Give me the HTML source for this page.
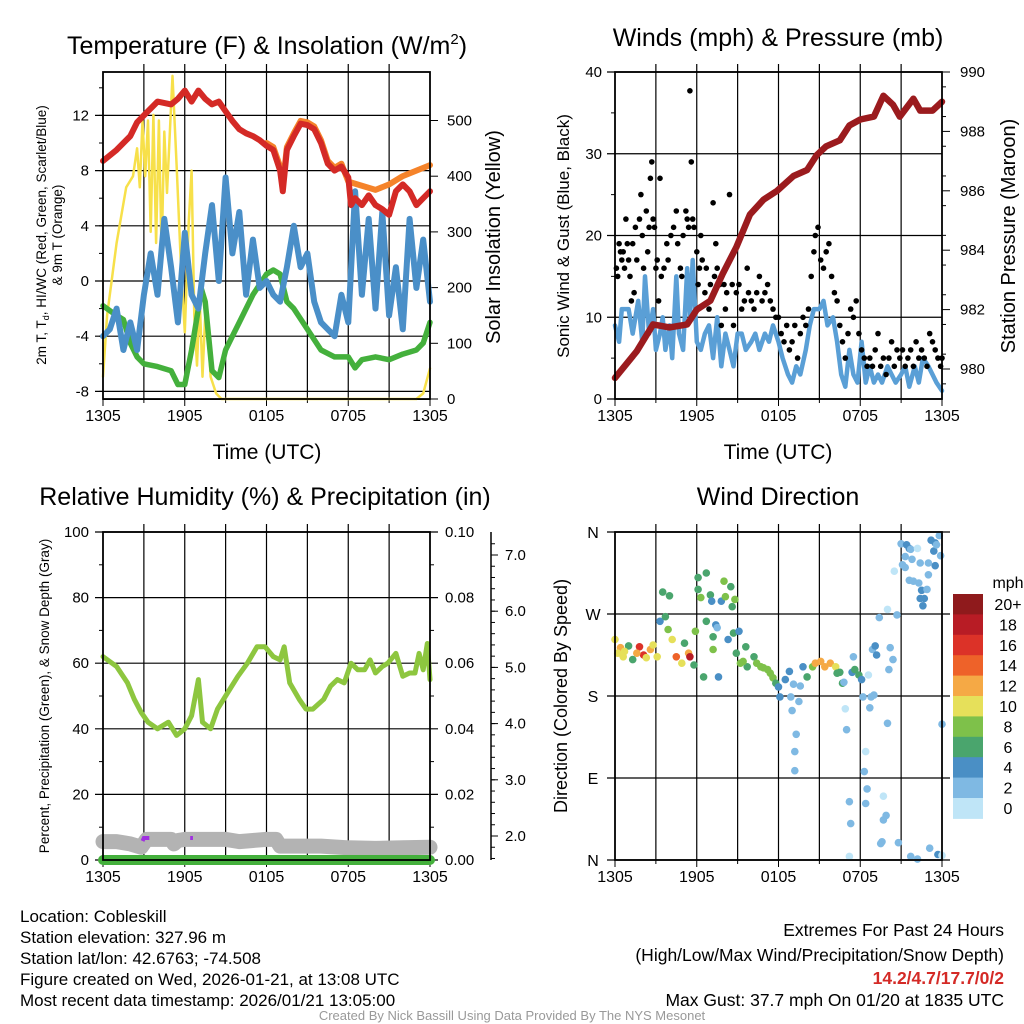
<!DOCTYPE html>
<html><head><meta charset="utf-8"><style>
html,body{margin:0;padding:0;background:#fff}
svg{display:block;font-family:"Liberation Sans",Arial,sans-serif}
</style></head><body>
<svg id="c" width="1024" height="1024" viewBox="0 0 1024 1024" xmlns="http://www.w3.org/2000/svg"></svg>
<script>
// ---------- DATA ----------
const timeTicks=['1305','1905','0105','0705','1305'];
// Panel 1 temperature
const redH=[0,1,2,2.5,3,4,5,5.5,6,6.5,7,7.5,8,8.5,9,9.5,10,10.5,11,11.5,12,12.5,13,13.2,13.5,14,14.5,15,15.5,16,16.5,17,17.5,18,18.2,18.5,19,19.5,20,20.5,21,21.5,22,22.5,23,23.5,24];
const redV=[8.7,9.5,10.5,11.5,12,13,12.8,13.2,13.8,13.0,13.8,13.2,12.8,13.0,12.3,11.6,11.0,10.7,10.5,10.2,9.8,9.5,8.0,6.5,9.5,10.5,11.4,11.3,11.0,10.0,8.5,8.0,8.3,7.5,5.5,6.0,5.5,6.2,5.5,5.2,4.8,6.5,7.0,6.5,5.5,6.0,6.5];
const orgH=[12,12.5,13,13.2,13.5,14,14.5,15,15.5,16,16.5,17,17.5,18,19,20,21,22,23,24];
const orgV=[10.0,9.7,8.3,7.0,9.7,10.7,11.6,11.5,11.2,10.2,8.7,8.2,8.5,7.2,6.9,6.6,7.0,7.6,8.0,8.4];
const grnH=[0,1,1.5,2,2.5,3,4,5,5.5,6,6.5,7,7.2,7.5,8,8.5,9,9.5,10,11,12,12.5,13,13.5,14,15,16,17,18,18.5,19,20,21,22,23,23.5,24];
const grnV=[-1.8,-2.5,-2.8,-4.5,-5.5,-6,-6.2,-6.5,-7.5,-7.5,-5,-2,-0.5,-1.5,-6.5,-7,-5,-4,-3,-1,0.5,0.8,0.5,-1.5,-2,-3.5,-5,-5.5,-5.5,-6.3,-5.7,-5.5,-5.7,-5.3,-5,-4.5,-3];
const bluV=[-4,-3.5,-2,-5,-3,-5,-1,2,-1,4.5,1,-3,3.5,-1,-2,2,5.5,0,7.5,2,5,-1,3,-0.5,0,-1,-1.5,1,4,1,2,-1.5,-3,-3.5,-4,-1,-3,6.5,-1,4.5,-2,5,-2.5,1,-3.5,4.5,-0.5,3,-1.5];
const solH=[0,0.3,1,1.7,2.2,2.5,2.7,2.9,3.1,3.3,3.5,3.7,3.9,4.1,4.3,4.5,4.7,5.1,5.4,5.7,6.0,6.3,6.5,6.7,6.9,7.1,7.3,7.5,7.7,7.9,8.3,8.7,23,23.5,24];
const solV=[40,150,280,380,400,450,380,500,400,500,300,510,280,500,260,480,370,580,420,250,120,320,410,150,60,180,40,150,130,40,10,0,0,10,55];
const tempTicks=[12,8,4,0,-4,-8];
const solTicks=[0,100,200,300,400,500];
// Panel 2 wind/pressure
const presH=[0,1.6,2.8,4,5.3,6,7,7.9,8.9,9.9,10.9,11.9,13.1,14.1,14.8,15.5,16.5,17.2,18,19,19.7,20.4,20.9,21.9,22.4,23.3,24];
const presV=[979.7,980.6,981.5,981.4,981.5,982.0,982.3,983.2,984.1,985.2,985.7,986.0,986.5,986.7,987.2,987.5,987.7,988.2,988.4,988.5,989.2,988.9,988.5,989.1,988.7,988.7,989.0];
const sonH=[0,0.3,0.5,1,1.3,1.7,2,2.2,2.5,2.8,3,3.3,3.5,3.7,4,4.2,4.5,4.7,5,5.3,5.5,5.7,6,6.3,6.6,6.9,7.2,7.5,7.8,8.1,8.4,8.7,9,9.3,9.6,10,10.3,10.6,11,11.3,11.6,12,12.3,12.7,13,13.3,13.6,14,14.3,14.6,15,15.3,15.6,16,16.3,16.6,16.9,17.2,17.5,17.8,18.1,18.4,18.7,19,19.3,19.6,20,20.3,20.6,21,21.3,21.6,22,22.3,22.6,23,23.3,23.6,24];
const sonV=[9,7,11,11,8,12,7,15,8,11,6,8,10,6,9,5,15,8,6,16,10,17,7,6,8,9,5,10,4,8,6,4,8,8,6,7,8,6,8,7,9,7,5,3,2,4,3,6,9,11,11,12,9,10,7,3,1.5,6,3,2,7,2,4,2,3,2,4,3,2,3,4,1.5,4,2,5,4,3,2,1];
const gustH=[0.1,0.2,0.3,0.4,0.5,0.6,0.7,0.8,0.9,1.0,1.1,1.2,1.3,1.4,1.5,1.6,1.8,1.9,2.0,2.1,2.3,2.4,2.5,2.6,2.7,2.8,2.9,3.0,3.1,3.2,3.3,3.4,3.6,3.8,3.9,4.1,4.3,4.5,4.6,4.8,4.9,5.0,5.2,5.3,5.4,5.5,5.6,5.7,5.8,6.0,6.1,6.2,6.3,6.4,6.6,6.7,6.9,7.0,7.2,7.3,7.4,7.5,7.7,7.8,8.0,8.1,8.2,8.4,8.6,8.7,8.9,9.1,9.3,9.5,9.7,9.8,10,10.2,10.4,10.6,10.8,11,11.2,11.4,11.6,11.8,12,12.2,12.4,12.6,12.8,13,13.2,13.4,13.6,13.8,14,14.2,14.4,14.6,14.7,14.9,15.1,15.3,15.5,15.7,15.9,16.1,16.3,16.5,16.7,16.9,17.1,17.3,17.5,17.7,17.9,18.1,18.3,18.5,18.7,18.9,19.1,19.3,19.5,19.7,19.9,20.1,20.3,20.5,20.7,20.9,21.1,21.3,21.5,21.7,21.9,22.1,22.3,22.5,22.7,22.9,23.1,23.3,23.5,23.7,23.9,24];
const gustV=[16,15,19,18,17,18,16,22,19,17,15,12,19,13,21,17,22,25,20,16,23,18,21,27,29,22,21,16,17,12,27,15,16,19,17,20,21,23,19,16,15,20,23,22,21,37.7,29,22,21,18,14,16,20,17,13,16,11,14,24,15,19,16,14,9,14,11,13,25,14,9,13,14,11,12,16,13,12,11,13,15,12,13,14,12,11,10,10,8,7,9,6,7,9,5,8,10,9,11,15,18,20,21,17,16,18,19,15,13,12,9,7,5,8,11,10,12,8,6,5,4,5,4,6,8,4,5,3,5,7,4,6,5,6,4,5,6,4,7,5,6,5,4,8,7,6,5,4,5];
const windTicks=[0,10,20,30,40];
const presTicks=[980,982,984,986,988,990];
// Panel 3 RH / precip / snow
const rhH=[0,1,1.8,2.3,2.8,3.3,4,4.8,5.4,6,6.5,7,7.3,7.9,8.4,9,9.9,10.6,11.3,11.9,12.5,13,13.3,13.7,14.4,14.9,15.4,16.2,16.7,17.2,17.7,18.2,18.7,19.2,19.6,20,20.5,20.9,21.5,22,22.5,22.9,23.2,23.5,23.8,24];
const rhV=[62,59,54,49,45,42,40,42,38,40,44,55,42,40,46,50,56,60,65,65,62,61,65,54,49,46,46,49,53,55,54,60,58,58,61,57,59,60,63,56,57,57,63,58,66,55];
const snowH=[0,1,2,2.8,3.2,5,5.2,5.5,6,9,10,11,12,12.7,13,14,16,18,20,22,24];
const snowV=[1.9,1.9,1.86,1.8,1.94,1.94,1.86,1.92,1.94,1.94,1.9,1.92,1.94,1.94,1.82,1.82,1.82,1.79,1.78,1.79,1.8];
const precipH=[0,24];
const precipV=[0,0];
const rhTicks=[0,20,40,60,80,100];
const pTicks=['0.00','0.02','0.04','0.06','0.08','0.10'];
const snowTicks=[2,3,4,5,6,7];
// Panel 4 wind direction
const dirH=[0,0.4,0.6,1.0,1.3,1.8,2.1,2.6,2.8,3.1,0.2,0.7,1.6,2.3,3.3,3.5,3.7,4.0,3.9,4.2,4.5,4.9,5.1,5.4,5.5,5.8,5.9,6.1,6.1,6.3,6.5,6.7,6.7,7.0,7.1,7.4,7.5,7.2,7.2,7.6,7.8,8.0,8.1,8.3,8.5,8.6,8.7,8.8,9.1,8.9,9.6,9.2,9.7,10.2,10.7,11.2,11.6,11.8,12.0,12.1,9.4,10.4,10.9,11.4,12.5,12.8,12.9,13.0,13.1,13.3,13.2,13.2,13.5,13.6,13.8,14.1,14.5,14.7,15.1,15.4,15.8,16.2,16.3,16.5,16.7,16.8,16.9,17.0,17.2,17.3,17.2,17.4,17.5,17.6,17.9,18.1,18.2,18.4,18.3,18.5,18.4,18.6,18.7,18.8,19.0,18.9,19.1,19.2,19.4,19.5,19.6,19.7,19.7,19.9,20.0,20.0,20.1,20.2,20.4,20.5,20.7,20.8,21.0,21.1,21.3,21.3,21.4,21.6,21.7,21.8,21.6,21.9,22.2,22.3,22.4,22.5,22.4,22.6,22.7,22.9,23.0,23.0,23.2,23.4,23.5,23.6,23.5,23.8,23.9,24.0,21.7,22.2,23.1,23.7,24.0];
const dirDeg=[242,233,223,235,220,234,225,231,236,223,227,229,227,222,262,294,267,290,253,242,223,216,238,227,223,214,251,310,297,288,201,315,262,291,284,258,255,245,231,201,284,306,289,242,300,278,249,286,251,227,234,216,212,223,212,209,200,194,190,179,218,216,211,205,198,207,179,164,193,138,119,98,174,191,212,201,212,216,218,212,216,212,205,206,194,195,166,143,64,40,4,206,223,209,203,198,179,119,97,78,62,203,167,179,181,231,235,225,266,18,20,70,44,49,275,150,209,233,220,317,269,19,347,324,333,321,346,342,341,330,307,306,342,304,326,296,287,279,287,297,313,326,351,339,348,346,323,356,334,149,4,1,13,6,5];
const dirSpd=[10,12,10,6,6,16,16,12,10,10,10,10,12,10,4,6,6,6,8,10,14,10,6,12,18,6,8,6,6,8,6,6,6,6,4,4,2,6,8,4,4,8,8,4,6,6,6,8,4,6,6,8,6,6,8,8,8,6,4,4,8,8,8,8,4,4,2,2,2,2,2,2,2,2,4,6,8,12,12,12,12,10,6,6,6,2,0,2,2,2,0,4,2,6,6,4,2,0,2,2,2,0,2,2,2,2,4,4,2,2,2,0,2,2,0,2,2,2,2,0,2,2,2,2,2,2,4,4,2,2,2,2,0,2,2,4,4,4,4,2,2,2,4,4,4,2,4,2,2,2,2,2,2,4,0];
const dirTicks=['N','E','S','W','N'];
const speedLabels=['20+','18','16','14','12','10','8','6','4','2','0'];
const speedColors=['#bfe5f7','#7fb9e3','#4a8fc5','#4aa56d','#7ec14a','#e6e05a','#f5a945','#ee6229','#dc3228','#b81c25','#8f1a1c'];

// ---------- DRAW ----------
const S='http://www.w3.org/2000/svg';
const svg=document.getElementById('c');
function mk(tag,attrs,parent,name){const e=document.createElementNS(S,tag);for(const k in attrs)e.setAttribute(k,attrs[k]);


(parent||svg).appendChild(e);return e;}
function txt(x,y,s,size,anchor,name,extra){const t=mk('text',Object.assign({x:x,y:y,'font-size':size,'text-anchor':anchor||'middle',fill:'#000'},extra||{}),svg,name);t.textContent=s;return t;}
function lin(x1,y1,x2,y2,st,w,name,g){return mk('line',{x1:x1,y1:y1,x2:x2,y2:y2,stroke:st,'stroke-width':w},g,name);}
function poly(xs,ys,sx,sy,color,w,name){let d='';for(let i=0;i<xs.length;i++)d+=(i?'L':'M')+sx(xs[i]).toFixed(1)+' '+sy(ys[i]).toFixed(1);
return mk('path',{d:d,fill:'none',stroke:color,'stroke-width':w,'stroke-linejoin':'round','stroke-linecap':'round'},svg,name);}

function frame(L,T,R,B,name){
  const sx=h=>L+h/24*(R-L);
  for(let h=3;h<24;h+=3){lin(sx(h),T-8,sx(h),B,'#000',1.2,name+'-vgrid');}
  for(let i=0;i<5;i++){const x=sx(i*6);lin(x,B,x,B+7,'#000',1,name+'-xtick');txt(x,B+22,timeTicks[i],16,'middle',name+'-xlabel');}
  for(let h=3;h<24;h+=6){lin(sx(h),B,sx(h),B+4,'#000',1,name+'-xminor');}
  return sx;
}
function box(L,T,R,B,name){mk('rect',{x:L,y:T,width:R-L,height:B-T,fill:'none',stroke:'#000','stroke-width':1.8},svg,name+'-frame');}

// ===== Panel 1 =====
(function(){
const L=103,T=72,R=430,B=399;
const sx=frame(L,T,R,B,'temp-panel');
const sy=v=>281-v*13.8;
const ss=v=>399-v*0.557;
tempTicks.forEach(v=>{lin(L-8,sy(v),R,sy(v),'#000',1.2,'temp-hgrid');txt(L-14,sy(v)+5,String(v),15,'end','temp-ytick-label');});
for(let v=-8;v<=14;v+=2){lin(L-4,sy(v),L,sy(v),'#000',1,'temp-minor-tick');}
solTicks.forEach(v=>{lin(R,ss(v),R+8,ss(v),'#000',1,'solar-tick');txt(R+17,ss(v)+5,String(v),15,'start','solar-tick-label');});
lin(L,sy(-8.3)+4,R,sy(-8.3)+4,'#000',1,'temp-bottom-line');
poly(solH,solV,sx,ss,'#f7e04a',2.5,'solar-insolation-line');
poly(grnH,grnV,sx,sy,'#44b03c',5.5,'dewpoint-line');
poly(bluV.map((v,i)=>i*0.5),bluV,sx,sy,'#4a8fc8',6,'windchill-line');
poly(orgH,orgV,sx,sy,'#f5832a',6,'temp-9m-line');
poly(redH,redV,sx,sy,'#d42a26',6,'temp-2m-line');
box(L,T,R,B,'temp-panel');
const t=txt(267,54,'',25,'middle','temp-panel-title');t.innerHTML='Temperature (F) &amp; Insolation (W/m<tspan dy="-10" font-size="15">2</tspan><tspan dy="10">)</tspan>';
txt(267,459,'Time (UTC)',21,'middle','temp-x-axis-title');
const a=txt(0,0,'',13.5,'middle','temp-y-axis-title',{transform:'translate(46,235) rotate(-90)'});
a.innerHTML='2m T, T<tspan dy="3" font-size="9">d</tspan><tspan dy="-3">, HI/WC (Red, Green, Scarlet/Blue)</tspan>';
txt(0,0,'& 9m T (Orange)',13.5,'middle','temp-y-axis-title-2',{transform:'translate(62,235) rotate(-90)'});
txt(0,0,'Solar Insolation (Yellow)',20,'middle','solar-y-axis-title',{transform:'translate(500,237) rotate(-90)'});
})();

// ===== Panel 2 =====
(function(){
const L=615,T=72,R=942,B=399;
const sx=frame(L,T,R,B,'wind-panel');
const sy=v=>399-v*8.175;
const sp=v=>369-(v-980)*29.7;
windTicks.forEach(v=>{lin(L-8,sy(v),R,sy(v),'#000',1.2,'wind-hgrid');txt(L-13,sy(v)+5,String(v),15,'end','wind-ytick-label');});
for(let v=5;v<40;v+=10)lin(L-4,sy(v),L,sy(v),'#000',1,'wind-minor-tick');
presTicks.forEach(v=>{lin(R,sp(v),R+8,sp(v),'#000',1,'pressure-tick');txt(R+18,sp(v)+5,String(v),15,'start','pressure-tick-label');});
for(let v=979;v<990;v+=1)lin(R,sp(v+0.5),R+4,sp(v+0.5),'#000',1,'pressure-minor-tick');
poly(sonH,sonV,sx,sy,'#5a9fd6',4.5,'sonic-wind-line');
gustH.forEach((h,i)=>{mk('circle',{cx:sx(h).toFixed(1),cy:sy(gustV[i]).toFixed(1),r:2.8,fill:'#000'},svg,'gust-point');});
poly(presH,presV,sx,sp,'#9b1b1e',6.5,'pressure-line');
box(L,T,R,B,'wind-panel');
txt(778,46,'Winds (mph) & Pressure (mb)',25,'middle','wind-panel-title');
txt(778,459,'Time (UTC)',21,'middle','wind-x-axis-title');
txt(0,0,'Sonic Wind & Gust (Blue, Black)',17,'middle','wind-y-axis-title',{transform:'translate(569,236) rotate(-90)'});
txt(0,0,'Station Pressure (Maroon)',20,'middle','pressure-y-axis-title',{transform:'translate(1015,236) rotate(-90)'});
})();

// ===== Panel 3 =====
(function(){
const L=103,T=532,R=430,B=860;
const sx=frame(L,T,R,B,'rh-panel');
const sy=v=>860-v*3.28;
const sn=v=>836-(v-2)*56.2;
rhTicks.forEach((v,i)=>{lin(L-8,sy(v),R+8,sy(v),'#000',1.2,'rh-hgrid');txt(L-14,sy(v)+5,String(v),15,'end','rh-ytick-label');txt(R+15,sy(v)+5,pTicks[i],15,'start','precip-tick-label');});
for(let v=10;v<100;v+=20){lin(L-4,sy(v),L,sy(v),'#000',1,'rh-minor-tick');lin(R,sy(v),R+4,sy(v),'#000',1,'precip-minor-tick');}
lin(491,532,491,860,'#000',1.5,'snow-axis-line');
snowTicks.forEach(v=>{lin(491,sn(v),498,sn(v),'#000',1,'snow-tick');txt(505,sn(v)+5,v.toFixed(1),15,'start','snow-tick-label');});
for(let v=1.6;v<7.4;v+=0.2)lin(491,sn(v),495,sn(v),'#000',1,'snow-minor-tick');
poly(snowH,snowV,sx,sn,'#b3b3b3',15,'snow-depth-line');
poly(precipH,precipV,sx,v=>860-v*3280,'#44b03c',10,'precip-line');
mk('path',{d:`M${sx(2.9)} 841 L${sx(3)} 838 L${sx(3.4)} 838`,fill:'none',stroke:'#a030e0','stroke-width':4},svg,'purple-marker');
mk('path',{d:`M${sx(6.4)} 838 L${sx(6.6)} 838`,fill:'none',stroke:'#a030e0','stroke-width':4},svg,'purple-marker');
poly(rhH,rhV,sx,sy,'#8dc63f',5,'rh-line');
box(L,T,R,B,'rh-panel');
txt(265,505,'Relative Humidity (%) & Precipitation (in)',25,'middle','rh-panel-title');
txt(0,0,'Percent, Precipitation (Green), & Snow Depth (Gray)',13.5,'middle','rh-y-axis-title',{transform:'translate(49,696) rotate(-90)'});
})();

// ===== Panel 4 =====
(function(){
const L=615,T=532,R=942,B=860;
const sx=frame(L,T,R,B,'dir-panel');
const sy=v=>860-v/360*328;
dirTicks.forEach((s,i)=>{const y=sy(i*90);lin(L-8,y,R+8,y,'#000',1.2,'dir-hgrid');txt(L-22,y+6,s,16,'middle','dir-ytick-label');});
dirH.forEach((h,i)=>{const ci=Math.min(10,Math.floor(dirSpd[i]/2));
mk('circle',{cx:sx(h).toFixed(1),cy:sy(dirDeg[i]).toFixed(1),r:3.8,fill:speedColors[ci]},svg,'direction-point');});
box(L,T,R,B,'dir-panel');
txt(778,505,'Wind Direction',25,'middle','dir-panel-title');
txt(0,0,'Direction (Colored By Speed)',18,'middle','dir-y-axis-title',{transform:'translate(567,696) rotate(-90)'});
txt(1008,588,'mph',16,'middle','colorbar-unit');
const cT=594,cH=20.4;
speedLabels.forEach((s,i)=>{mk('rect',{x:953,y:(cT+i*cH).toFixed(1),width:30,height:cH+0.5,fill:speedColors[10-i]},svg,'colorbar-box');
txt(1008,cT+i*cH+16,s,16,'middle','colorbar-label');});
})();

// ===== Footer text =====
['Location: Cobleskill','Station elevation: 327.96 m','Station lat/lon: 42.6763; -74.508','Figure created on Wed, 2026-01-21, at 13:08 UTC','Most recent data timestamp: 2026/01/21 13:05:00'].forEach((s,i)=>{
 txt(20,922+i*21,s,17,'start','station-info-line');});
txt(1004,936,'Extremes For Past 24 Hours',17.5,'end','extremes-title');
txt(1004,961,'(High/Low/Max Wind/Precipitation/Snow Depth)',17.5,'end','extremes-subtitle');
txt(1004,984,'14.2/4.7/17.7/0/2',17.5,'end','extremes-values',{fill:'#d42a26','font-weight':'bold'});
txt(1004,1006,'Max Gust: 37.7 mph On 01/20 at 1835 UTC',17.5,'end','max-gust-text');
txt(512,1020,'Created By Nick Bassill Using Data Provided By The NYS Mesonet',13,'middle','credit-text',{fill:'#999'});
</script>
</body></html>
